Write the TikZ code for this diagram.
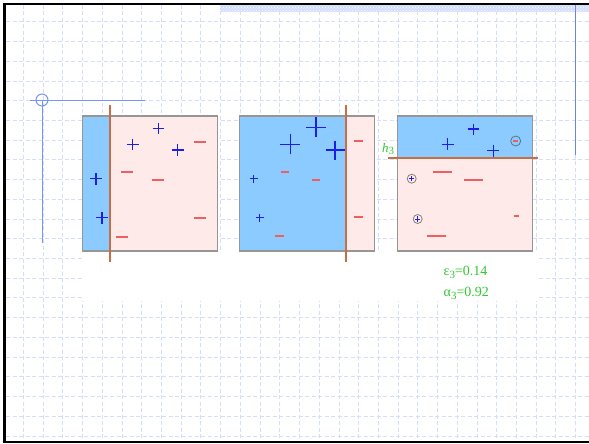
\documentclass[tikz,border=0pt]{standalone}
\usepackage{fontspec}
\setmainfont{Liberation Serif}
\usetikzlibrary{patterns}
\definecolor{gridc}{RGB}{212,222,252}
\definecolor{bfill}{RGB}{140,203,255}
\definecolor{pfill}{RGB}{255,234,234}
\definecolor{orng}{RGB}{200,110,70}
\definecolor{plusc}{RGB}{30,30,230}
\definecolor{minusc}{RGB}{240,95,95}
\definecolor{grn}{RGB}{50,200,50}
\definecolor{xhair}{RGB}{120,150,240}
\definecolor{vline}{RGB}{110,130,230}
\definecolor{bandc}{RGB}{210,222,250}
\definecolor{boxb}{RGB}{150,150,150}
\tikzset{
  gridline/.style={draw=gridc, line width=0.6pt, dash pattern=on 4pt off 2.5pt},
  plusline/.style={draw=plusc, line width=1.3pt},
  minusline/.style={draw=minusc, line width=1.8pt},
  boxline/.style={draw=boxb, line width=1.2pt},
  sepline/.style={draw=orng, line width=1.8pt},
  circmark/.style={draw=gray, line width=0.8pt},
  greentext/.style={text=grn, font=\fontsize{14}{16}\selectfont, inner sep=0pt},
}
\newcommand\plusmark[3]{\draw[plusline, shift={(#1,#2)}] (-#3,0) -- (#3,0) (0,-#3) -- (0,#3);}
\newcommand\minusmark[3]{\draw[minusline, shift={(#1,#2)}] (-#3,0) -- (#3,0);}
\newcommand\subthree{\raisebox{-0.5ex}{\fontsize{11}{12}\selectfont\upshape 3}}
\begin{document}
\begin{tikzpicture}[x=1pt,y=-1pt]
\useasboundingbox (0,0) rectangle (589,444);
\fill[white] (0,0) rectangle (589,444);
% grid
\foreach \k in {0,...,28} {\draw[gridline] ({23.3+19.72*\k},5) -- ({23.3+19.72*\k},441);}
\foreach \k in {0,...,21} {\draw[gridline] (6,{21.7+19.72*\k}) -- (589,{21.7+19.72*\k});}
% white area below boxes
\fill[white] (82,251) rectangle (538,301);
% top band
\fill[bandc] (220,5.5) rectangle (589,12);
\fill[pattern=crosshatch dots, pattern color=white] (220,5.5) rectangle (589,12);
% frame
\draw[line width=2.5pt, black] (3,4) -- (589,4);
\draw[line width=2.2pt, black] (3,442) -- (589,442);
\draw[line width=3pt, black] (4.5,3) -- (4.5,443);
% right vertical line
\draw[vline, line width=1pt] (575.5,5) -- (575.5,155);
% crosshair
\draw[xhair, line width=1pt] (42,100) circle (6);
\draw[xhair, line width=1pt] (30,100) -- (145,100);
\draw[xhair, line width=1pt] (42,100) -- (42,243);
% box 1
\fill[pfill] (82.5,116) rectangle (217.5,251);
\fill[bfill] (82.5,116) rectangle (110.3,251);
\draw[boxline] (82.5,116) rectangle (217.5,251);
\draw[sepline] (110.3,105) -- (110.3,262);
\plusmark{158.3}{128.3}{5.8}
\plusmark{132.7}{144.3}{5.8}
\plusmark{177.7}{150}{5.8}
\plusmark{96}{178.7}{5.8}
\plusmark{102}{217.7}{5.8}
\minusmark{200}{141.7}{6.2}
\minusmark{127}{172}{6}
\minusmark{158.3}{180.3}{6}
\minusmark{200}{217.7}{6.2}
\minusmark{121.7}{237}{6}
% box 2
\fill[pfill] (239.5,116) rectangle (374.8,251);
\fill[bfill] (239.5,116) rectangle (346.3,251);
\draw[boxline] (239.5,116) rectangle (374.8,251);
\draw[sepline] (346.3,105) -- (346.3,262);
\plusmark{316}{127.3}{10}
\plusmark{290.3}{144.3}{10}
\plusmark{335}{150}{9.5}
\plusmark{253.7}{178.7}{4}
\plusmark{259.7}{217.7}{4}
\minusmark{358}{141.3}{4.5}
\minusmark{284.7}{172}{4}
\minusmark{316}{180.3}{4}
\minusmark{358}{217}{4.5}
\minusmark{279.3}{236.3}{4.5}
% box 3
\fill[pfill] (397.3,116) rectangle (532.3,251);
\fill[bfill] (397.3,116) rectangle (532.3,158.3);
\draw[boxline] (397.3,116) rectangle (532.3,251);
\draw[sepline] (388.3,158.3) -- (537.7,158.3);
\plusmark{473.3}{129}{5.5}
\plusmark{447.7}{144.3}{6}
\plusmark{493.3}{150.7}{6}
\minusmark{442.3}{172}{9.7}
\minusmark{473.3}{180.3}{9.7}
\minusmark{516}{216.3}{2.5}
\minusmark{436.7}{236.3}{9.7}
\draw[circmark] (411.7,178.7) circle (4.5);
\draw[plusline, line width=0.9pt, shift={(411.7,178.7)}] (-2.7,0) -- (2.7,0) (0,-2.7) -- (0,2.7);
\draw[circmark] (417.7,219) circle (4.5);
\draw[plusline, line width=0.9pt, shift={(417.7,219)}] (-2.7,0) -- (2.7,0) (0,-2.7) -- (0,2.7);
\draw[circmark, draw={rgb,255:red,90;green,120;blue,130}] (515.7,141) circle (5);
\draw[minusline, line width=1.2pt, shift={(515.7,141)}] (-2.6,0) -- (2.6,0);
% labels
\node[greentext, font=\fontsize{13}{15}\selectfont\itshape, anchor=base west] (hlab) at (382,152) {h\subthree};
\node[greentext, anchor=base west] (eps) at (443.5,275) {ε\subthree=0.14};
\node[greentext, anchor=base west] (alp) at (443.5,296) {α\subthree=0.92};
\end{tikzpicture}
\end{document}
